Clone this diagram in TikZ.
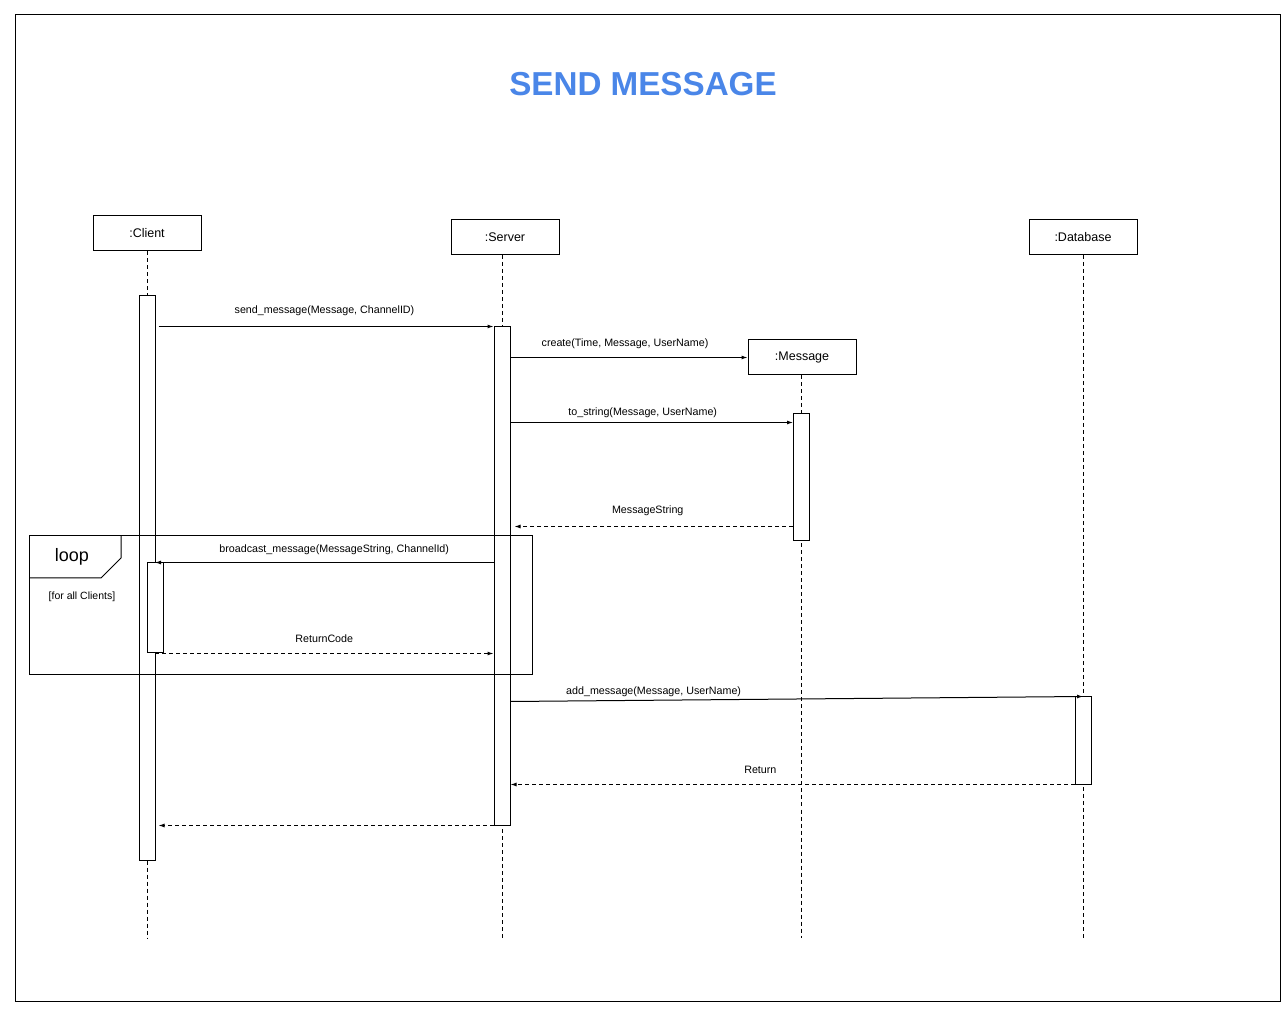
\documentclass[tikz,border=0pt]{standalone}
\usepackage{fontspec}
\setmainfont{Liberation Sans}
\usetikzlibrary{arrows.meta,backgrounds}
\definecolor{titleblue}{HTML}{4A86E8}

\begin{document}
\begin{tikzpicture}[x=1pt,y=1pt,line width=1pt,
  obj/.style={draw,rectangle,minimum width=108pt,minimum height=35pt,inner sep=0pt,font=\fontsize{12.5}{15}\selectfont},
  bar/.style={draw,fill=white,rectangle,minimum width=16pt,inner sep=0pt},
  life/.style={dash pattern=on 4pt off 3pt},
  msg/.style={-{Latex[length=6pt,width=4pt]}},
  ret/.style={msg,dash pattern=on 4pt off 3pt},
  lbl/.style={above=10pt,inner sep=0pt,font=\fontsize{10.7}{12}\selectfont}]
\useasboundingbox (0,0) rectangle (1287,1015);
\draw (15,14) rectangle (1280,1000);
\node (title) [font=\fontsize{33.2}{38}\selectfont\bfseries,text=titleblue] at (643,931) {SEND MESSAGE};

\node (client) [obj] at (147,781.5) {:Client};
\node (server) [obj] at (505,778) {:Server};
\node (message) [obj] at (802,657.5) {:Message};
\node (database) [obj] at (1083,778) {:Database};

\node (cbar) [bar,minimum height=564pt] at (147,437) {};
\node (sbar) [bar,minimum height=498pt] at (502,439) {};
\node (mbar) [bar,minimum height=127pt] at (801.5,537.5) {};
\node (dbar) [bar,minimum height=87pt] at (1083,274.5) {};
\node (lbar) [bar,minimum height=90pt] at (155,407) {};
\begin{scope}[on background layer]
\foreach \o/\b in {client/cbar,server/sbar,message/mbar,database/dbar}
  \draw[life] (\b |- \o.south) -- (\b |- 0,77);
\end{scope}

\draw (29,340) rectangle (532,479);
\draw (29,437) -- (101,437) -- (121,457) -- (121,479);
\node (loop) [font=\fontsize{18}{22}\selectfont] at (72,458) {loop};
\node (guard) [font=\fontsize{10.5}{12}\selectfont] at (82,418) {[for all Clients]};

\coordinate (tostr) at ([yshift=-9pt]mbar.north west);
\coordinate (mstr) at ([yshift=15pt]mbar.south west);
\coordinate (addstart) at (sbar.east |- dbar.north);

\draw[msg,shorten <=3pt] (cbar.east |- sbar.north) -- node[lbl] {send\_message(Message, ChannelID)} (sbar.north west);
\draw[msg] (sbar.east |- message.west) -- node[lbl,xshift=-4pt,yshift=-2pt] {create(Time, Message, UserName)} (message.west);
\draw[msg] (sbar.east |- tostr) -- node[lbl,xshift=-9pt,yshift=-6pt] {to\_string(Message, UserName)} (tostr);
\draw[ret,shorten >=4pt] (mstr) -- node[lbl,xshift=-4pt] {MessageString} (sbar.east |- mstr);
\draw[msg] (sbar.west |- lbar.north) -- node[lbl,xshift=10pt,yshift=-3pt] {broadcast\_message(MessageString, ChannelId)} (lbar.north);
\draw[ret] (lbar.south) -- node[lbl] {ReturnCode} (sbar.west |- lbar.south);
\draw[msg] ([yshift=-5pt]addstart) -- node[lbl,pos=0.25,yshift=-7pt] {add\_message(Message, UserName)} (dbar.north);
\draw[ret] (dbar.south west) -- node[lbl,pos=0.557] {Return} (sbar.east |- dbar.south);
\draw[ret,shorten >=3pt] (sbar.south west) -- (cbar.east |- sbar.south);
\end{tikzpicture}
\end{document}
